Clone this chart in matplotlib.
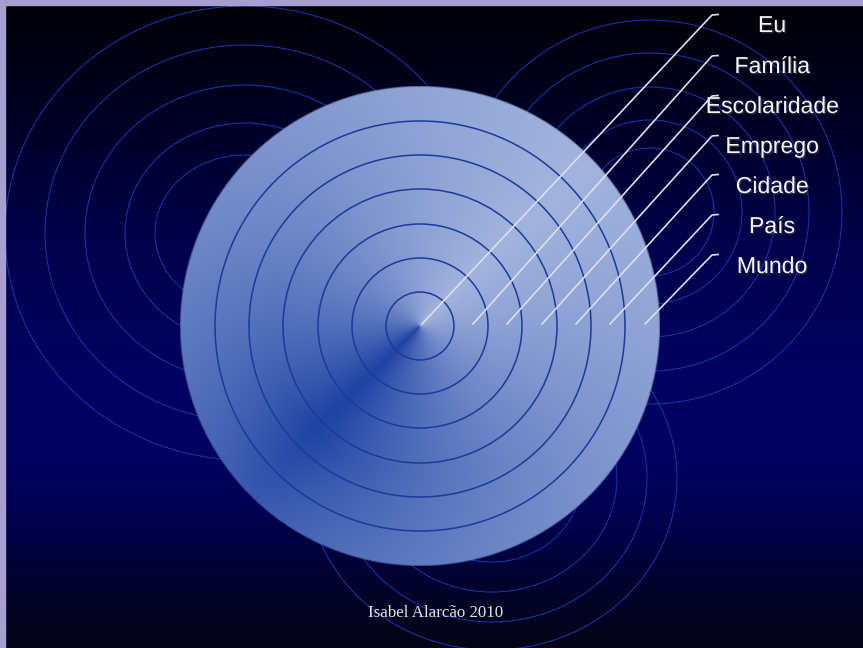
import numpy as np
import matplotlib
matplotlib.use("Agg")
import matplotlib.pyplot as plt
from matplotlib.patches import Circle, Ellipse, Rectangle
import matplotlib.patheffects as pe

#########################################################################

labels = ["Eu", "Família", "Escolaridade", "Emprego", "Cidade", "País", "Mundo"]
caption = "Isabel Alarcão 2010"

# big disc, one ring per label (innermost = Eu)
cx, cy, R = 420, 326, 240
ring_r = [34, 68, 102, 137, 171, 205, 240]

# decorative ellipses behind the disc
left_c = (245, 233)
left_rx = [240, 200, 160, 120, 90]
left_ry = [227, 188, 148, 110, 78]
right_c = (650, 212)
right_r = [192, 159, 125, 92, 64]
bottom_c = (492, 478)
bottom_rx = [185, 155, 125, 90]
bottom_ry = [172, 144, 114, 84]

# leader lines and labels
start_dx = [2, 53, 87, 122, 156, 190, 225]
start_y = 324
elbow_x = 712
elbow_y = [15, 56, 96, 136, 175, 215, 255]
label_x = 772
label_base = [32, 73, 113, 153, 193, 233, 273]

#########################################################################

W, H = 863, 648
fig = plt.figure(figsize=(W / 100, H / 100), dpi=100)
ax = fig.add_axes([0, 0, 1, 1])
ax.set_axis_off()

# background vertical gradient
gy = [0, 0.12, 0.37, 0.6, 0.72, 0.8, 0.92, 1.0]
gc = np.array([(0, 0, 5), (0, 0, 26), (0, 0, 74), (0, 0, 98), (0, 0, 94),
               (0, 0, 78), (3, 3, 40), (5, 5, 22)]) / 255
t = np.linspace(0, 1, H)
bg = np.stack([np.interp(t, gy, gc[:, k]) for k in range(3)], axis=1)
bg = np.repeat(bg[:, None, :], 4, axis=1)
ax.imshow(bg, extent=(0, W, H, 0), origin="upper", aspect="auto", zorder=0)

# background rings
ring_kw = dict(fill=False, ec="#1434a2", lw=0.8, zorder=2)
for rx, ry in zip(left_rx, left_ry):
    ax.add_patch(Ellipse(left_c, 2 * rx, 2 * ry, **ring_kw))
for r in right_r:
    ax.add_patch(Circle(right_c, r, **ring_kw))
for rx, ry in zip(bottom_rx, bottom_ry):
    ax.add_patch(Ellipse(bottom_c, 2 * rx, 2 * ry, **ring_kw))

# big disc with a conic-ish shading, dark towards lower-left
n = 960
xs = np.linspace(cx - R, cx + R, n)
ys = np.linspace(cy - R, cy + R, n)
X, Y = np.meshgrid(xs, ys)
dx, dy = X - cx, -(Y - cy)
r = np.hypot(dx, dy)
ang = np.degrees(np.arctan2(dy, dx)) % 360
d = np.abs((ang - 225 + 180) % 360 - 180)
soft = 14.0
ds = (np.sqrt(d ** 2 + soft ** 2) - soft) / (np.sqrt(180 ** 2 + soft ** 2) - soft)
b = ds ** 0.6
b = b + (1 - b) * 0.18 * np.clip((r - 150) / 90, 0, 1)
dark = np.array([0x20, 0x44, 0xa4]) / 255
light = np.array([0xa2, 0xb4, 0xde]) / 255
rgb = dark + b[..., None] * (light - dark)
alpha = np.clip((R - r) / 1.5 + 0.5, 0, 1)
img = np.dstack([rgb, alpha])
ax.imshow(img, extent=(cx - R, cx + R, cy + R, cy - R), origin="upper",
          interpolation="bilinear", zorder=3)

for rr in ring_r[:-1]:
    ax.add_patch(Circle((cx, cy), rr, fill=False, ec="#1a3a9c", lw=1.1, zorder=4))

# leaders
for sdx, ey in zip(start_dx, elbow_y):
    ax.plot([cx + sdx, elbow_x, elbow_x + 6], [start_y, ey, ey - 0.5],
            color="#dcdfec", lw=1.2, zorder=5, solid_joinstyle="round")

shadow = [pe.withSimplePatchShadow(offset=(1, -1), shadow_rgbFace="#404050", alpha=0.6)]
for lab, yb in zip(labels, label_base):
    ax.text(label_x, yb, lab, ha="center", va="baseline", fontsize=16.6,
            family="Liberation Sans", color="#f6f6f6", zorder=6, path_effects=shadow)

ax.text(436, 617, caption, ha="center", va="baseline", fontsize=12.2,
        family="Liberation Serif", color="#e4e4e4", zorder=6)

# lavender frame on top and left
ax.add_patch(Rectangle((0, 0), W, 5, color="#a6a0d0", zorder=7))
ax.add_patch(Rectangle((0, 0), 5, H, color="#a6a0d0", zorder=7))

ax.set_xlim(0, W)
ax.set_ylim(H, 0)
fig.savefig("out.png", dpi=100)
